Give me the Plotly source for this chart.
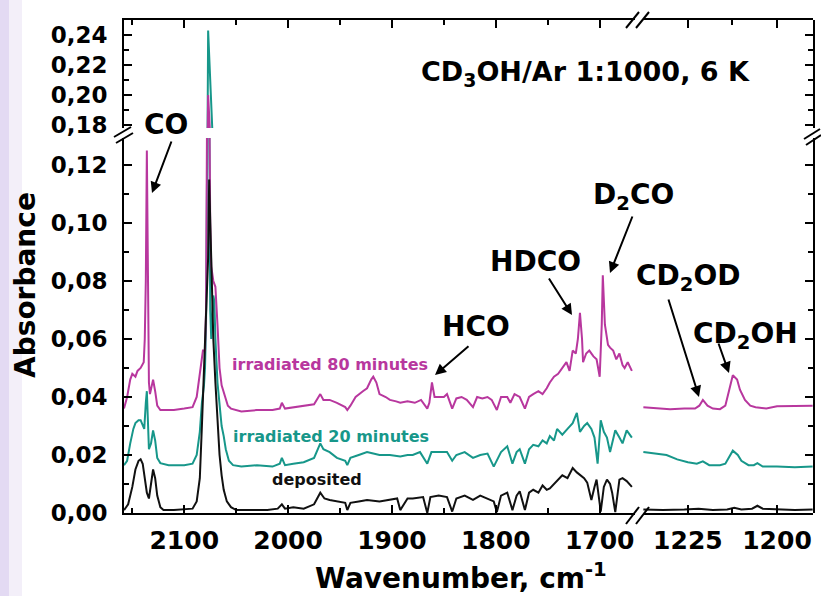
import plotly.graph_objects as go

# ---------------- data ----------------
# deposited (black) – left segment
wn_dep_L = [2158, 2154, 2150, 2147, 2144, 2142, 2140, 2138, 2136, 2134, 2132, 2130, 2128, 2126, 2123, 2120,
            2110, 2100, 2092, 2088, 2085, 2083, 2081, 2079, 2077, 2076, 2075, 2074, 2073, 2072, 2070, 2068,
            2066, 2064, 2062, 2059, 2055, 2050, 2040, 2030, 2020, 2010, 2006, 2003, 1995, 1985, 1975, 1969,
            1965, 1960, 1953, 1945, 1943, 1940, 1932, 1924, 1912, 1902, 1895, 1892, 1885, 1880, 1870, 1866,
            1863, 1855, 1847, 1842, 1838, 1830, 1822, 1815, 1808, 1802, 1799, 1795, 1789, 1784, 1780, 1777,
            1772, 1768, 1764, 1759, 1755, 1751, 1748, 1744, 1741, 1736, 1731, 1726, 1722, 1719, 1715, 1712,
            1708, 1705, 1703, 1699, 1696, 1693, 1690, 1688, 1685, 1681, 1678, 1674, 1669]
ab_dep_L = [0.001, 0.003, 0.009, 0.015, 0.018, 0.0185, 0.017, 0.012, 0.007, 0.005, 0.010, 0.015, 0.012, 0.006,
            0.002, 0.001, 0.001, 0.0012, 0.0015, 0.004, 0.012, 0.030, 0.050, 0.070, 0.088, 0.115, 0.100, 0.085,
            0.070, 0.060, 0.045, 0.030, 0.020, 0.013, 0.008, 0.004, 0.002, 0.001, 0.001, 0.0012, 0.001, 0.0015,
            0.003, 0.0015, 0.002, 0.0015, 0.003, 0.007, 0.005, 0.0045, 0.004, 0.0035, 0.001, 0.0035, 0.004,
            0.0045, 0.004, 0.0045, 0.005, 0.001, 0.005, 0.005, 0.0055, 0.000, 0.0055, 0.006, 0.0055, 0.0005,
            0.005, 0.006, 0.0045, 0.006, 0.005, 0.004, 0.0003, 0.006, 0.007, 0.001, 0.006, 0.0075, 0.001, 0.007,
            0.008, 0.007, 0.0095, 0.008, 0.0085, 0.010, 0.011, 0.013, 0.012, 0.0155, 0.014, 0.013, 0.012,
            0.0105, 0.0045, 0.009, 0.0115, 0.0005, 0.009, 0.0115, 0.010, 0.007, 0.0003, 0.0115, 0.012, 0.011,
            0.009]
# deposited – right segment
wn_dep_R = [1237.5, 1232, 1226, 1222, 1218, 1214, 1212, 1210, 1207, 1205.5, 1204, 1200, 1195, 1190]
ab_dep_R = [0.0012, 0.001, 0.0012, 0.0015, 0.001, 0.0012, 0.0018, 0.0012, 0.0015, 0.0025, 0.0015, 0.0012,
            0.001, 0.0012]

# irradiated 20 minutes (teal)
wn_20_L = [2158, 2155, 2152, 2149, 2147, 2144, 2142, 2140, 2138.5, 2137, 2136, 2135, 2134, 2132, 2130, 2128,
           2126, 2123, 2115, 2100, 2092, 2088, 2085, 2083, 2081, 2080, 2079, 2078, 2077, 2076, 2075, 2074,
           2073, 2072, 2071, 2070, 2068, 2066, 2064, 2062, 2060, 2057, 2053, 2045, 2030, 2015, 2008, 2006,
           2003, 1995, 1985, 1975, 1969, 1966, 1960, 1953, 1945, 1943, 1940, 1932, 1924, 1918, 1912, 1902,
           1892, 1885, 1880, 1873, 1866, 1862, 1855, 1847, 1842, 1838, 1830, 1822, 1815, 1808, 1802, 1795,
           1789, 1784, 1780, 1777, 1772, 1768, 1764, 1759, 1755, 1751, 1748, 1744, 1741, 1736, 1731, 1726,
           1722, 1719, 1715, 1712, 1708, 1705, 1702, 1699, 1696, 1693, 1690, 1688, 1685, 1681, 1678, 1674,
           1669]
ab_20_L = [0.0165, 0.018, 0.024, 0.029, 0.031, 0.032, 0.032, 0.030, 0.029, 0.038, 0.042, 0.032, 0.022, 0.024,
           0.0285, 0.025, 0.019, 0.0172, 0.0165, 0.0165, 0.017, 0.020, 0.028, 0.038, 0.044, 0.050, 0.065, 0.120,
           0.243, 0.150, 0.070, 0.060, 0.068, 0.075, 0.073, 0.060, 0.045, 0.036, 0.030, 0.0265, 0.022, 0.018,
           0.0165, 0.016, 0.0165, 0.016, 0.017, 0.019, 0.0165, 0.017, 0.0175, 0.019, 0.024, 0.022, 0.021, 0.019,
           0.018, 0.0165, 0.019, 0.020, 0.021, 0.0205, 0.020, 0.020, 0.0195, 0.020, 0.020, 0.021, 0.017, 0.021,
           0.021, 0.021, 0.018, 0.020, 0.021, 0.019, 0.020, 0.0205, 0.016, 0.021, 0.023, 0.017, 0.021, 0.022,
           0.017, 0.022, 0.0235, 0.023, 0.025, 0.024, 0.0265, 0.025, 0.029, 0.027, 0.029, 0.031, 0.0345, 0.028,
           0.030, 0.031, 0.029, 0.026, 0.017, 0.032, 0.028, 0.026, 0.021, 0.024, 0.0285, 0.026, 0.024, 0.0285,
           0.026]
wn_20_R = [1237.5, 1234, 1231, 1228, 1225, 1222.5, 1220.8, 1219, 1216, 1214.5, 1213.5, 1212.4, 1211, 1210,
           1208, 1206.5, 1205.5, 1204, 1200, 1195, 1190]
ab_20_R = [0.021, 0.0205, 0.020, 0.0185, 0.0175, 0.017, 0.0178, 0.0165, 0.0165, 0.017, 0.019, 0.0215, 0.020,
           0.018, 0.0165, 0.0165, 0.0172, 0.016, 0.016, 0.0158, 0.016]

# irradiated 80 minutes (magenta)
wn_80_L = [2158, 2155, 2152, 2150, 2147, 2145, 2142, 2139, 2138, 2137, 2136, 2135, 2134, 2133, 2131, 2130,
           2128, 2126, 2123, 2110, 2100, 2092, 2088, 2085, 2083, 2082, 2080, 2079, 2078, 2077, 2076, 2075,
           2074, 2072, 2070, 2068, 2066, 2064, 2061, 2058, 2055, 2045, 2030, 2015, 2008, 2006, 2003, 1995,
           1985, 1975, 1969, 1966, 1960, 1953, 1945, 1943, 1940, 1935, 1928, 1924, 1920, 1918, 1915, 1912,
           1906, 1902, 1896, 1892, 1885, 1878, 1872, 1866, 1864, 1861.5, 1859, 1855, 1850, 1847, 1842, 1838,
           1833, 1828, 1822, 1818, 1813, 1808, 1804, 1799, 1795, 1789, 1786, 1782, 1777, 1772, 1768, 1764,
           1759, 1755, 1751, 1748, 1744, 1740, 1736, 1732, 1729, 1726, 1723, 1721, 1719, 1717, 1716, 1713,
           1710, 1706, 1703, 1700, 1698, 1697, 1695, 1692, 1690, 1687, 1684, 1681, 1678, 1676, 1673, 1669]
ab_80_L = [0.036, 0.040, 0.046, 0.048, 0.047, 0.049, 0.050, 0.052, 0.060, 0.080, 0.125, 0.085, 0.045, 0.041,
           0.044, 0.046, 0.042, 0.037, 0.0355, 0.0355, 0.036, 0.0365, 0.040, 0.048, 0.053, 0.056, 0.056, 0.070,
           0.140, 0.200, 0.150, 0.100, 0.085, 0.080, 0.078, 0.065, 0.050, 0.044, 0.040, 0.037, 0.036, 0.035,
           0.0355, 0.0355, 0.036, 0.038, 0.036, 0.0365, 0.037, 0.0375, 0.041, 0.039, 0.039, 0.038, 0.0365,
           0.0355, 0.037, 0.040, 0.042, 0.043, 0.046, 0.047, 0.045, 0.041, 0.040, 0.039, 0.0385, 0.038, 0.0385,
           0.038, 0.039, 0.036, 0.038, 0.045, 0.040, 0.040, 0.040, 0.041, 0.036, 0.0395, 0.040, 0.039, 0.0365,
           0.040, 0.0395, 0.040, 0.039, 0.0355, 0.040, 0.040, 0.038, 0.041, 0.040, 0.036, 0.040, 0.041, 0.042,
           0.041, 0.043, 0.045, 0.047, 0.048, 0.050, 0.052, 0.049, 0.056, 0.055, 0.060, 0.069, 0.060, 0.052,
           0.055, 0.056, 0.054, 0.053, 0.047, 0.065, 0.082, 0.065, 0.058, 0.057, 0.056, 0.053, 0.055, 0.051,
           0.050, 0.052, 0.049]
wn_80_R = [1237.5, 1234, 1230, 1226, 1223, 1221.8, 1220.8, 1219.5, 1218, 1216, 1214.5, 1213.5, 1212.4, 1211.2,
           1210.4, 1209, 1207.5, 1206, 1203, 1200, 1195, 1190]
ab_80_R = [0.0365, 0.0362, 0.0358, 0.036, 0.036, 0.037, 0.039, 0.037, 0.036, 0.0358, 0.037, 0.042, 0.0475,
           0.046, 0.0425, 0.039, 0.037, 0.0365, 0.036, 0.0368, 0.0368, 0.037]

# ticks
x_left_ticks = [2100, 2000, 1900, 1800, 1700]
x_left_minor = [2150, 2050, 1950, 1850, 1750]
x_right_ticks = [1225, 1200]
x_right_minor = [1212.5]
y_low_ticks = [0.00, 0.02, 0.04, 0.06, 0.08, 0.10, 0.12]
y_low_labels = ["0,00", "0,02", "0,04", "0,06", "0,08", "0,10", "0,12"]
y_low_minor = [0.01, 0.03, 0.05, 0.07, 0.09, 0.11]
y_up_ticks = [0.18, 0.20, 0.22, 0.24]
y_up_labels = ["0,18", "0,20", "0,22", "0,24"]
y_up_minor = [0.19, 0.21, 0.23]

MAG = "#b8379e"
TEAL = "#17978a"
BLK = "#111111"
FONT = "DejaVu Sans"

# ---------------- geometry helpers (pixels -> paper) ----------------
PL, PR, PT, PB = 124, 813, 20, 513
W, H = PR - PL, PB - PT


def fx(x):
    return (x - PL) / W


def fy(y):
    return (PB - y) / H


fig = go.Figure()

series = [
    (wn_20_L, ab_20_L, wn_20_R, ab_20_R, TEAL),
    (wn_80_L, ab_80_L, wn_80_R, ab_80_R, MAG),
    (wn_dep_L, ab_dep_L, wn_dep_R, ab_dep_R, BLK),
]
for wl, al, wr, ar, col in series:
    ln = dict(color=col, width=2)
    fig.add_trace(go.Scatter(x=wl, y=al, mode="lines", line=ln, xaxis="x", yaxis="y", showlegend=False,
                             hoverinfo="skip"))
    fig.add_trace(go.Scatter(x=wl, y=al, mode="lines", line=ln, xaxis="x", yaxis="y2", showlegend=False,
                             hoverinfo="skip"))
    fig.add_trace(go.Scatter(x=wr, y=ar, mode="lines", line=ln, xaxis="x2", yaxis="y", showlegend=False,
                             hoverinfo="skip"))
# empty traces for frame axes
for xa, ya in [("x3", "y2"), ("x4", "y2"), ("x2", "y3"), ("x2", "y4")]:
    fig.add_trace(go.Scatter(x=[], y=[], xaxis=xa, yaxis=ya, showlegend=False))

XL_RANGE = [2158, 1666]
XR_RANGE = [1237.6, 1189.9]
YL_RANGE = [0, (PB - 138) / 2900]
YU_RANGE = [0.178, 0.25]
dom_xl = [0, fx(635)]
dom_xr = [fx(643), 1]
dom_yl = [0, fy(138)]
dom_yu = [fy(128), 1]

common = dict(showline=True, linewidth=2, linecolor="black", ticks="inside", ticklen=8, tickwidth=2,
              tickcolor="black", showgrid=False, zeroline=False, automargin=False)
minor_common = dict(ticks="inside", ticklen=5, tickwidth=2, tickcolor="black", showgrid=False)
yfont = dict(family=FONT, size=23, color="black", weight="bold")
xfont = dict(family=FONT, size=25, color="black", weight="bold")

fig.update_layout(
    width=821, height=596, autosize=False,
    margin=dict(l=PL, r=821 - PR, t=PT, b=596 - PB),
    paper_bgcolor="white", plot_bgcolor="rgba(0,0,0,0)",
    xaxis=dict(domain=dom_xl, range=XL_RANGE, anchor="y", tickvals=x_left_ticks,
               ticktext=[str(v) for v in x_left_ticks], minor=dict(tickvals=x_left_minor, **minor_common),
               ticklabelstandoff=4, tickfont=xfont, **common),
    xaxis2=dict(domain=dom_xr, range=XR_RANGE, anchor="y", tickvals=x_right_ticks,
                ticktext=[str(v) for v in x_right_ticks], minor=dict(tickvals=x_right_minor, **minor_common),
                ticklabelstandoff=4, tickfont=xfont, **common),
    xaxis3=dict(domain=dom_xl, range=XL_RANGE, anchor="y2", side="top", tickvals=x_left_ticks,
                showticklabels=False, minor=dict(tickvals=x_left_minor, **minor_common), **common),
    xaxis4=dict(domain=dom_xr, range=XR_RANGE, anchor="y2", side="top", tickvals=x_right_ticks,
                showticklabels=False, minor=dict(tickvals=x_right_minor, **minor_common), **common),
    yaxis=dict(domain=dom_yl, range=YL_RANGE, anchor="x", tickvals=y_low_ticks, ticktext=y_low_labels,
               minor=dict(tickvals=y_low_minor, **minor_common), ticklabelstandoff=10, tickfont=yfont,
               **common),
    yaxis2=dict(domain=dom_yu, range=YU_RANGE, anchor="x", tickvals=y_up_ticks, ticktext=y_up_labels,
                minor=dict(tickvals=y_up_minor, **minor_common), ticklabelstandoff=10, tickfont=yfont,
                **common),
    yaxis3=dict(domain=dom_yl, range=YL_RANGE, anchor="x2", side="right", tickvals=y_low_ticks,
                showticklabels=False, minor=dict(tickvals=y_low_minor, **minor_common), **common),
    yaxis4=dict(domain=dom_yu, range=YU_RANGE, anchor="x2", side="right", tickvals=y_up_ticks,
                showticklabels=False, minor=dict(tickvals=y_up_minor, **minor_common), **common),
)

# ---------------- decorations ----------------
shapes = [
    dict(type="rect", xref="paper", yref="paper", x0=fx(0), x1=fx(9), y0=fy(596), y1=fy(0),
         fillcolor="#e3daf3", line=dict(width=0), layer="below"),
    dict(type="rect", xref="paper", yref="paper", x0=fx(9), x1=fx(22), y0=fy(596), y1=fy(0),
         fillcolor="#f3eff9", line=dict(width=0), layer="below"),
]
breaks = [
    ((114, 137), (131, 127)), ((116, 143), (133, 133)),      # left y axis
    ((804, 139), (820, 129)), ((806, 145), (821, 135)),      # right y axis
    ((626, 28), (639, 12)), ((636, 28), (649, 12)),          # top x axis
    ((626, 524), (639, 507)), ((636, 524), (649, 507)),      # bottom x axis
]
for (x0, y0), (x1, y1) in breaks:
    shapes.append(dict(type="line", xref="paper", yref="paper", x0=fx(x0), y0=fy(y0), x1=fx(x1), y1=fy(y1),
                       line=dict(color="black", width=2)))
fig.update_layout(shapes=shapes)

ann = []


def text(x, y, s, size, color="black", angle=0):
    ann.append(dict(xref="paper", yref="paper", x=fx(x), y=fy(y), text=s, showarrow=False,
                    xanchor="center", yanchor="middle", textangle=angle,
                    font=dict(family=FONT, size=size, color=color, weight="bold")))


def arrow(tail, head):
    ann.append(dict(xref="paper", yref="paper", x=fx(head[0]), y=fy(head[1]), ax=tail[0] - head[0],
                    ay=tail[1] - head[1], text="", showarrow=True, arrowhead=2, arrowsize=1.1,
                    arrowwidth=2, arrowcolor="black", standoff=0, startstandoff=0))


text(585, 73, "CD<sub>3</sub>OH/Ar 1:1000, 6 K", 27)
text(166, 125, "CO", 28)
text(476, 326, "HCO", 28)
text(535, 261, "HDCO", 28)
text(633, 196, "D<sub>2</sub>CO", 28)
text(688, 277, "CD<sub>2</sub>OD", 28)
text(745, 335, "CD<sub>2</sub>OH", 28)
text(330, 364, "irradiated 80 minutes", 16, MAG)
text(331, 436, "irradiated 20 minutes", 16, TEAL)
text(317, 479, "deposited", 16, BLK)
text(25, 285, "Absorbance", 28, angle=-90)
text(461, 576, "Wavenumber, cm<sup>-1</sup>", 28)

arrow((172, 140), (152, 193))
arrow((470, 345), (435, 375))
arrow((548, 277), (572, 315))
arrow((633, 215), (610, 273))
arrow((668, 298), (699, 397))
arrow((718, 342), (729, 373))

fig.update_layout(annotations=ann)
fig.write_html("out.html", config={"displayModeBar": False},
               post_script="document.body.style.margin='0';document.body.style.overflow='hidden';")
